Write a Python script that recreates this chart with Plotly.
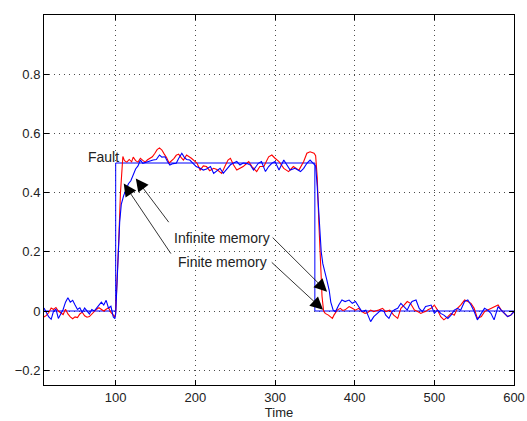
import plotly.graph_objects as go

# True fault signal
t_true = [10, 100, 100, 350, 350, 600]
v_true = [0.0, 0.0, 0.5, 0.5, 0.0, 0.0]

# Finite memory estimate (red)
t_red = [10, 13, 16, 19, 22, 25, 28, 31, 34, 37, 40, 43, 46, 49, 52, 55, 58, 61, 64, 67,
         70, 73, 76, 79, 82, 85, 88, 91, 94, 97, 99, 100, 102, 104, 106, 108, 109,
         111, 114, 117, 120, 122, 125, 128, 131, 134, 137, 140, 143, 146, 149, 152, 155,
         158, 161, 164, 167, 170, 173, 176, 179, 182, 185, 189, 195, 202, 206, 210, 214,
         218, 223, 227, 233, 237, 241, 244, 248, 252, 256, 260, 265, 267, 271, 275, 277,
         281, 286, 292, 296, 300, 305, 311, 317, 323, 330, 336, 340, 344, 349, 351, 353,
         355, 357, 359, 361, 363, 367, 372, 374, 378, 382, 385, 388, 393, 397, 401, 405,
         409, 413, 416, 420, 424, 427, 430, 435, 439, 444, 449, 454, 458, 462, 466, 470,
         475, 479, 483, 486, 489, 492, 496, 500, 504, 508, 512, 517, 521, 525, 529, 533,
         538, 542, 546, 550, 554, 559, 563, 567, 571, 575, 580, 584, 588, 592, 596, 600]
v_red = [-0.02, -0.015, -0.005, 0.01, 0.005, 0.012, 0.0, -0.006, -0.012, 0.006, -0.01, -0.02,
         -0.026, -0.02, -0.022, -0.01, -0.004, -0.016, -0.021, -0.019, -0.01, 0.0, 0.006,
         0.011, 0.004, 0.0, 0.006, 0.011, -0.005, -0.015, -0.02, -0.005, 0.1, 0.25, 0.4,
         0.5, 0.522, 0.508, 0.503, 0.512, 0.504, 0.52, 0.508, 0.503, 0.516, 0.509, 0.503,
         0.511, 0.515, 0.521, 0.532, 0.545, 0.551, 0.544, 0.53, 0.518, 0.5, 0.506, 0.515,
         0.526, 0.53, 0.519, 0.51, 0.527, 0.516, 0.5, 0.476, 0.49, 0.488, 0.474, 0.482,
         0.478, 0.465, 0.488, 0.51, 0.516, 0.493, 0.476, 0.482, 0.488, 0.5, 0.505, 0.488,
         0.476, 0.471, 0.488, 0.488, 0.521, 0.527, 0.516, 0.505, 0.482, 0.471, 0.488, 0.476,
         0.505, 0.533, 0.538, 0.533, 0.525, 0.45, 0.3, 0.17, 0.05, 0.0, -0.008, -0.014,
         -0.025, -0.014, 0.003, 0.009, 0.002, 0.004, 0.015, 0.009, 0.003, 0.009, -0.002,
         -0.008, -0.006, 0.003, -0.002, 0.001, 0.003, 0.009, -0.002, 0.003, -0.014, -0.025,
         0.009, 0.02, 0.032, 0.026, 0.003, -0.002, -0.008, -0.004, -0.002, 0.004, 0.009,
         0.02, 0.003, -0.019, -0.03, -0.019, -0.008, -0.014, 0.009, 0.02, 0.037, 0.032,
         0.026, 0.009, -0.025, -0.019, -0.002, 0.003, 0.009, 0.015, 0.02, 0.003, -0.008,
         -0.019, -0.014, -0.002]

# Infinite memory estimate (blue)
t_blue = [10, 13, 16, 19, 22, 25, 28, 31, 34, 37, 40, 43, 46, 49, 52, 55, 58, 61, 64, 67,
          70, 73, 76, 79, 82, 85, 88, 91, 94, 97, 99, 100, 101, 103, 105, 107, 110, 113,
          116, 119, 122, 125, 128, 131, 134, 138, 143, 147, 151, 155, 158, 162, 165, 168,
          172, 176, 179, 181, 183, 186, 189, 193, 197, 201, 206, 210, 214, 219, 223, 227,
          231, 235, 238, 241, 244, 248, 252, 256, 260, 265, 269, 273, 279, 283, 288, 292,
          296, 300, 305, 311, 315, 319, 325, 332, 336, 340, 344, 349, 351, 353, 356, 358,
          360, 363, 365, 368, 370, 373, 376, 380, 384, 388, 393, 397, 401, 405, 409, 414,
          418, 420, 424, 428, 433, 437, 439, 443, 447, 450, 454, 458, 462, 466, 469, 472,
          477, 481, 485, 489, 493, 496, 500, 504, 508, 512, 517, 521, 525, 529, 533, 538,
          542, 546, 550, 554, 559, 563, 567, 571, 575, 580, 584, 588, 592, 596, 600]
v_blue = [0.01, -0.005, -0.02, -0.028, 0.0, 0.006, -0.025, -0.01, 0.005, 0.03, 0.045, 0.03,
          0.036, 0.02, 0.005, 0.011, -0.005, 0.01, 0.0, -0.01, 0.005, 0.0, 0.01, 0.02, 0.03,
          0.02, 0.036, 0.01, 0.016, -0.02, -0.026, -0.01, 0.05, 0.2, 0.3, 0.36, 0.39, 0.41,
          0.43, 0.44, 0.46, 0.48, 0.49, 0.51, 0.499, 0.503, 0.506, 0.51, 0.512, 0.527, 0.52,
          0.521, 0.505, 0.493, 0.498, 0.499, 0.515, 0.527, 0.533, 0.52, 0.512, 0.51, 0.5,
          0.488, 0.482, 0.476, 0.48, 0.488, 0.465, 0.475, 0.482, 0.465, 0.475, 0.488, 0.494,
          0.5, 0.505, 0.493, 0.5, 0.498, 0.493, 0.476, 0.499, 0.505, 0.471, 0.488, 0.499,
          0.505, 0.476, 0.51, 0.493, 0.476, 0.482, 0.471, 0.482, 0.499, 0.51, 0.493, 0.49,
          0.42, 0.27, 0.2, 0.16, 0.12, 0.105, 0.07, 0.03, 0.003, -0.002, 0.02, 0.037, 0.032,
          0.037, 0.026, 0.032, 0.015, -0.002, 0.003, -0.025, -0.036, -0.019, -0.008, 0.003,
          -0.002, -0.014, -0.025, -0.002, 0.004, 0.009, 0.026, 0.015, 0.003, 0.02, 0.032,
          0.037, 0.009, -0.002, 0.015, 0.018, 0.02, -0.008, 0.003, -0.008, -0.014, -0.025,
          -0.014, 0.003, 0.009, 0.003, 0.032, 0.037, 0.02, -0.002, -0.03, -0.008, 0.009,
          0.003, -0.008, -0.03, 0.015, 0.003, -0.008, -0.019, -0.014, -0.002]

x_ticks = [100, 200, 300, 400, 500, 600]
y_ticks = [-0.2, 0.0, 0.2, 0.4, 0.6, 0.8]
y_tick_text = ["\u22120.2", "0", "0.2", "0.4", "0.6", "0.8"]

fig = go.Figure()
fig.add_trace(go.Scatter(x=t_true, y=v_true, mode="lines",
                         line=dict(color="#0000ff", width=1)))
fig.add_trace(go.Scatter(x=t_red, y=v_red, mode="lines",
                         line=dict(color="#ff0000", width=1.1)))
fig.add_trace(go.Scatter(x=t_blue, y=v_blue, mode="lines",
                         line=dict(color="#0000ff", width=1.1)))

font = dict(family="Liberation Sans, Arial, Helvetica, sans-serif", size=13, color="#222")
afont = dict(family="Liberation Sans, Arial, Helvetica, sans-serif", size=14, color="#222")

annotations = [
    dict(x=107.0, y=0.52, xref="x", yref="y", text="Fault", showarrow=False,
         xanchor="right", yanchor="middle", font=afont),
    dict(x=170.5, y=0.245, xref="x", yref="y", text="Infinite memory", showarrow=False,
         xanchor="left", yanchor="middle", font=afont),
    dict(x=175.5, y=0.166, xref="x", yref="y", text="Finite memory", showarrow=False,
         xanchor="left", yanchor="middle", font=afont),
]
arrows = [
    (125.2, 0.448, 168.0, 0.295),
    (110.1, 0.431, 170.5, 0.189),
    (365.3, 0.065, 295.2, 0.253),
    (360.3, 0.004, 294.0, 0.169),
]
for hx, hy, tx, ty in arrows:
    annotations.append(dict(x=hx, y=hy, ax=tx, ay=ty, xref="x", yref="y",
                            axref="x", ayref="y", text="", showarrow=True,
                            arrowhead=2, arrowsize=3.2, arrowwidth=0.8,
                            arrowcolor="black"))

fig.update_layout(
    width=527, height=421,
    margin=dict(l=44, r=13, t=15, b=36),
    paper_bgcolor="white", plot_bgcolor="white",
    showlegend=False, font=font,
    annotations=annotations,
)
grid_color = "rgba(0,0,0,0.7)"
fig.update_xaxes(range=[10, 600], tickvals=x_ticks, ticks="inside", ticklen=5,
                 tickcolor="black", showline=True, linecolor="black", linewidth=1,
                 mirror="ticks", showgrid=True, gridcolor=grid_color,
                 griddash="1px,4px", gridwidth=1, zeroline=False, automargin=False,
                 tickfont=font, title=dict(text="Time", font=font, standoff=2))
fig.update_yaxes(range=[-0.25, 1.0], tickvals=y_ticks, ticktext=y_tick_text,
                 ticks="inside", ticklen=5, tickcolor="black", showline=True,
                 linecolor="black", linewidth=1, mirror="ticks", showgrid=True,
                 gridcolor=grid_color, griddash="1px,4px", gridwidth=1,
                 zeroline=False, automargin=False, tickfont=font)

fig.write_html("out.html")
